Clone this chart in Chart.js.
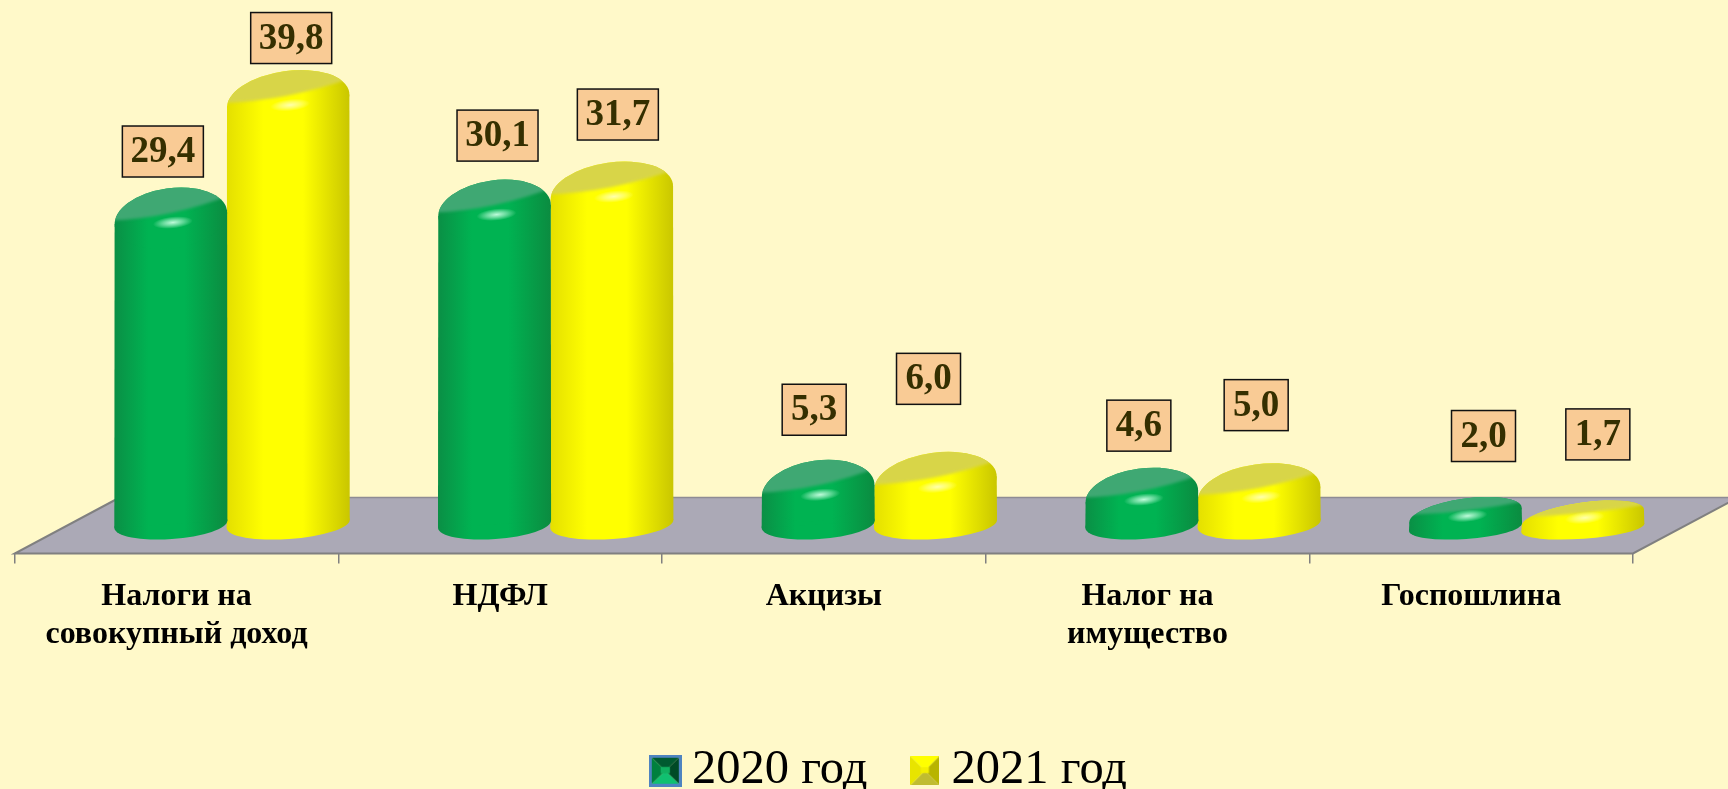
<!DOCTYPE html>
<html><head><meta charset="utf-8">
<style>html,body{margin:0;padding:0;background:#FFF9C9;overflow:hidden;width:1728px;height:789px}
#w{width:1728px;height:805px;position:relative}</style>
<script src="https://cdn.jsdelivr.net/npm/chart.js@4/dist/chart.umd.js"></script></head>
<body><div id="w"><canvas id="c"></canvas></div>
<script>
const categories=[["Налоги на","совокупный доход"],["НДФЛ"],["Акцизы"],["Налог на","имущество"],["Госпошлина"]];
const series2020=[29.4,30.1,5.3,4.6,2.0];
const series2021=[39.8,31.7,6.0,5.0,1.7];
const seriesNames=["2020 год","2021 год"];
// label box placement relative to each bar's top (reference places them by hand)
const nudge2020=[[45,-36],[56,-44],[49,-50],[50,-42],[71,-61]];
const nudge2021=[[56,-32],[59,-47],[46,-73],[50,-58],[68,-66]];
const SERIF='"Liberation Serif","Times New Roman",serif';
const DEPTH=105, SHIFT=53, LEGEND_SHIFT=71;
const shades=[
 {edge:'#0A8F45',main:'#00B352',right:'#0B8B40',top:'#3FA873',glow:'rgba(200,255,225,.95)'},
 {edge:'#E4DF00',main:'#FFFF00',right:'#C9C600',top:'#D8D548',glow:'rgba(255,255,190,.9)'}];
function extreme(rx,ry,r){ // rightmost point of a rotated ellipse, relative to its centre
  const t=Math.atan2(-ry*Math.sin(r),rx*Math.cos(r));
  return [rx*Math.cos(t)*Math.cos(r)-ry*Math.sin(t)*Math.sin(r), rx*Math.cos(t)*Math.sin(r)+ry*Math.sin(t)*Math.cos(r)];
}
const Bar=Chart.registry.getElement('bar');
Bar.prototype.draw=function(ctx){
  const {x,y,base,width}=this.getProps(['x','y','base','width'],true);
  const yellow=this.options.backgroundColor==='#FFFF00', s=shades[yellow?1:0];
  const cx=x+SHIFT, rx=width/2+(yellow?3:-2), h=base-y;
  const rot=-.14, ry=Math.min(30,h*.38);
  const vh=Math.sqrt(rx*rx*Math.sin(rot)**2+ry*ry*Math.cos(rot)**2);
  const cyT=y+vh, ryB=Math.min(15,h*.28), rotB=-.07;
  const vhB=Math.sqrt(rx*rx*Math.sin(rotB)**2+ryB*ryB*Math.cos(rotB)**2), cyB=base-vhB;
  const eT=extreme(rx,ry,rot), eB=extreme(rx,ryB,rotB);
  const g=ctx.createLinearGradient(cx-rx,0,cx+rx,0);
  g.addColorStop(0,s.edge);g.addColorStop(.3,s.main);g.addColorStop(.62,s.main);g.addColorStop(1,s.right);
  ctx.save();
  ctx.filter='blur(0.6px)';
  ctx.fillStyle=g;
  ctx.beginPath();ctx.ellipse(cx,cyB,rx,ryB,rotB,0,Math.PI*2);ctx.fill();
  ctx.beginPath();ctx.moveTo(cx-eT[0],cyT-eT[1]);ctx.lineTo(cx+eT[0],cyT+eT[1]);ctx.lineTo(cx+eB[0],cyB+eB[1]);ctx.lineTo(cx-eB[0],cyB-eB[1]);ctx.closePath();ctx.fill();
  ctx.beginPath();ctx.ellipse(cx,cyT,rx,ry,rot,0,Math.PI*2);ctx.fill();
  // top face, clipped to the rounded cap
  const k=ry/30;
  ctx.save();ctx.beginPath();ctx.ellipse(cx,cyT,rx,ry,rot,0,Math.PI*2);ctx.clip();
  ctx.filter='blur(1.5px)';ctx.fillStyle=s.top;ctx.beginPath();
  ctx.moveTo(cx-rx-4,y+33*k);ctx.quadraticCurveTo(cx,y+31*k,cx+rx+4,y+7*k);ctx.lineTo(cx+rx+4,y-6);ctx.lineTo(cx-rx-4,y-6);ctx.closePath();ctx.fill();ctx.restore();
  // highlight on the shoulder
  ctx.filter='none';
  ctx.translate(cx+2,y+35*k);ctx.rotate(-.1);ctx.scale(1,.3);
  const R=20,r=ctx.createRadialGradient(0,0,0,0,0,R);
  r.addColorStop(0,s.glow);r.addColorStop(.5,s.glow.replace(/[\d.]+\)$/,'.5)'));r.addColorStop(1,s.glow.replace(/[\d.]+\)$/,'0)'));
  ctx.fillStyle=r;ctx.beginPath();ctx.arc(0,0,R,0,Math.PI*2);ctx.fill();
  ctx.restore();
};
const floorPlugin={id:'floor',
 afterLayout(ch){ch.legend.left+=LEGEND_SHIFT;ch.legend.right+=LEGEND_SHIFT;},
 beforeDatasetsDraw(ch){
  const {ctx,chartArea:a}=ch, back=a.bottom-56;
  ctx.save();ctx.fillStyle='#ABA9B6';ctx.beginPath();ctx.moveTo(a.left,a.bottom);ctx.lineTo(a.left+DEPTH,back);ctx.lineTo(a.right+DEPTH,back);ctx.lineTo(a.right,a.bottom);ctx.closePath();ctx.fill();
  ctx.strokeStyle='#8E8C94';ctx.lineWidth=1.5;ctx.beginPath();ctx.moveTo(a.left+DEPTH,back);ctx.lineTo(a.right+DEPTH,back);ctx.stroke();
  ctx.strokeStyle='#808080';ctx.lineWidth=2;ctx.beginPath();ctx.moveTo(a.left+DEPTH,back);ctx.lineTo(a.left,a.bottom);ctx.lineTo(a.right,a.bottom);ctx.lineTo(a.right+DEPTH,back);ctx.stroke();
  ctx.restore();}};
const labelPlugin={id:'boxes',afterDatasetsDraw(ch){
  const ctx=ch.ctx,nudges=[nudge2020,nudge2021];
  ctx.save();ctx.font='bold 37px '+SERIF;ctx.textAlign='center';ctx.textBaseline='middle';
  ch.data.datasets.forEach((d,i)=>ch.getDatasetMeta(i).data.forEach((el,j)=>{
    const t=d.data[j].toFixed(1).replace('.',','),[dx,dy]=nudges[i][j];
    const bw=t.length>3?81:64,bh=51,X=el.x+dx,Y=el.y+dy;
    ctx.fillStyle='#F9CB95';ctx.fillRect(X-bw/2,Y-bh/2,bw,bh);
    ctx.strokeStyle='#111';ctx.lineWidth=1.5;ctx.strokeRect(X-bw/2,Y-bh/2,bw,bh);
    ctx.fillStyle='#352F00';ctx.fillText(t,X,Y+1);
  }));ctx.restore();}};
function marker(w,h,a,b,c,d,mid,frame){
  const k=document.createElement('canvas');k.width=w;k.height=h;const q=k.getContext('2d');
  const tri=(col,pts)=>{q.fillStyle=col;q.beginPath();pts.forEach((p,i)=>i?q.lineTo(p[0],p[1]):q.moveTo(p[0],p[1]));q.closePath();q.fill();};
  const m=[w/2,h/2];
  tri(a,[[0,0],[w,0],m]);tri(b,[[w,0],[w,h],m]);tri(c,[[w,h],[0,h],m]);tri(d,[[0,h],[0,0],m]);
  q.fillStyle=mid;q.fillRect(w*.36,h*.38,w*.28,h*.2);
  if(frame){q.strokeStyle=frame;q.lineWidth=3;q.strokeRect(1.5,1.5,w-3,h-3);}
  return k;
}
const markers=[marker(33,32,'#005A30','#004A26','#10C070','#00803E','#10B060','#4F84C0'),
               marker(29,29,'#FFFF00','#B8B400','#C0BC30','#E8E400','#F4F000',null)];
new Chart(document.getElementById('c'),{
  type:'bar',
  data:{labels:categories,datasets:[
    {label:seriesNames[0],data:series2020,backgroundColor:'#00B050',base:-1.77,clip:false},
    {label:seriesNames[1],data:series2021,backgroundColor:'#FFFF00',base:-1.77,clip:false}]},
  plugins:[floorPlugin,labelPlugin],
  options:{responsive:true,maintainAspectRatio:false,animation:false,
    layout:{padding:{left:14.7,right:95,top:0,bottom:0}},
    datasets:{bar:{barPercentage:1,categoryPercentage:.725}},
    scales:{
      y:{display:false,min:-3,max:46},
      x:{offset:true,border:{display:false},
        grid:{drawOnChartArea:false,color:'#808080',tickLength:10,lineWidth:1.5},
        ticks:{maxRotation:0,autoSkip:false,padding:14,color:'#000',font:{family:SERIF,weight:'bold',size:32,lineHeight:1.2}},
        afterFit(s){s.height=138;}}},
    plugins:{tooltip:{enabled:false},
      legend:{position:'bottom',labels:{usePointStyle:true,boxWidth:5,padding:55,color:'#000',
        font:{family:SERIF,size:48.5},
        generateLabels(ch){return Chart.defaults.plugins.legend.labels.generateLabels(ch).map((l,i)=>({...l,pointStyle:markers[i]}));}}}}
  }});
</script></body></html>
